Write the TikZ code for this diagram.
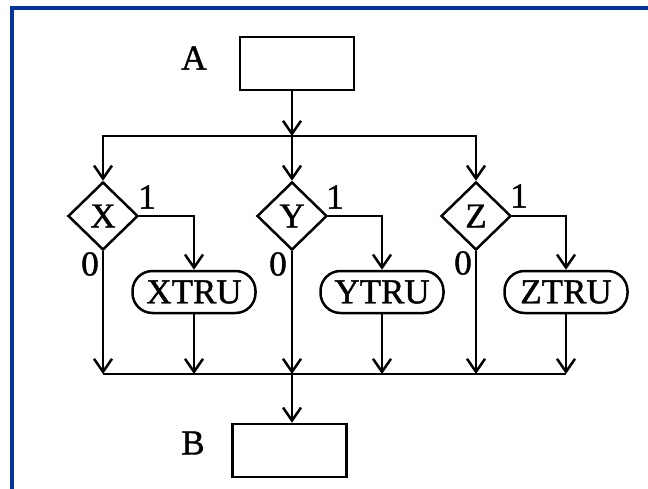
\documentclass[tikz,border=0pt]{standalone}
\usepackage{fontspec}
\setmainfont[FakeBold=1.2]{Liberation Serif}
\usetikzlibrary{shapes.geometric,arrows.meta}
\definecolor{frameblue}{RGB}{4,52,160}
\begin{document}
\begin{tikzpicture}[x=1pt,y=-1pt,
  line width=2.5pt,
  >={Straight Barb[length=13pt,width=18pt,line width=2.5pt]},
  txt/.style={font=\fontsize{35}{37}\selectfont, inner sep=0pt},
  plainbox/.style={draw, rectangle, minimum width=114pt, minimum height=53pt, inner sep=0pt},
  decision/.style={draw, diamond, minimum width=70pt, minimum height=68pt, inner sep=0pt, font=\fontsize{35}{37}\selectfont},
  procbox/.style={draw, rectangle, rounded corners=20pt, minimum width=123pt, minimum height=42pt, inner sep=0pt, font=\fontsize{35}{37}\selectfont}
]
\useasboundingbox (0,0) rectangle (648,489);
\draw[frameblue, line width=4pt] (12,489) -- (12,8) -- (648,8);

\node[plainbox] (boxA) at (297,63.5) {};
\node[txt] (labA) at (194,58) {A};

\coordinate (jA) at (292,136);
\node[decision] (dX) at (103,216) {X};
\node[decision] (dY) at (292,216) {Y};
\node[decision] (dZ) at (476,216) {Z};

\node[procbox] (pX) at (194,292) {XTRU};
\node[procbox] (pY) at (382,292) {YTRU};
\node[procbox] (pZ) at (566,292) {ZTRU};

\node[txt] (oX) at (147,197) {1};
\node[txt] (oY) at (335,197) {1};
\node[txt] (oZ) at (519,196) {1};
\node[txt] (zX) at (90,264) {0};
\node[txt] (zY) at (278,264) {0};
\node[txt] (zZ) at (463,263) {0};

\coordinate (jB) at (292,374);
\coordinate (busL) at (103,374);
\coordinate (busR) at (566,374);

\node[plainbox] (boxB) at (289.5,450.5) {};
\node[txt] (labB) at (193,443) {B};

% top distribution
\draw[->] (boxA.south -| jA) -- (jA);
\draw[->] (jA) -| (dX.north);
\draw[->] (jA) -| (dZ.north);
\draw[->] (jA) -- (dY.north);

% true branches
\draw[->] (dX.east) -| (pX.north);
\draw[->] (dY.east) -| (pY.north);
\draw[->] (dZ.east) -| (pZ.north);

% collecting bus
\draw (busL) -- (busR);
\draw[->] (dX.south) -- (dX.south |- jB);
\draw[->] (dY.south) -- (dY.south |- jB);
\draw[->] (dZ.south) -- (dZ.south |- jB);
\draw[->] (pX.south) -- (pX.south |- jB);
\draw[->] (pY.south) -- (pY.south |- jB);
\draw[->] (pZ.south) -- (pZ.south |- jB);

\draw[->] (jB) -- (jB |- boxB.north);
\end{tikzpicture}
\end{document}
